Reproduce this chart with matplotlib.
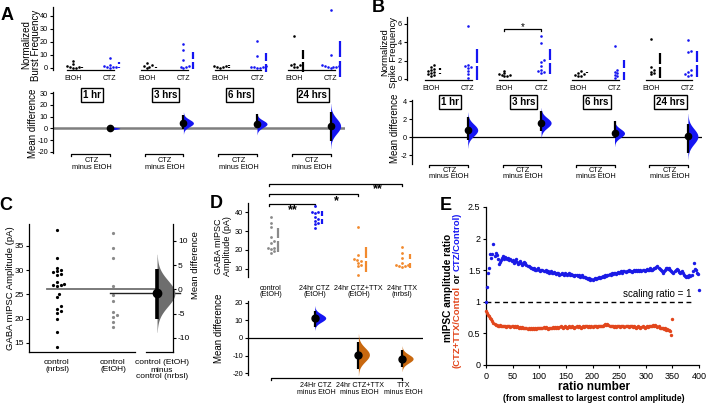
"""Estimation plots: burst/spike frequency (A, B), mIPSC amplitude (C, D), amplitude ratios (E)."""

import matplotlib

matplotlib.use("Agg")
import matplotlib.pyplot as plt
import numpy as np
from matplotlib.transforms import blended_transform_factory

plt.rcParams["font.family"] = ["Liberation Sans", "DejaVu Sans"]
plt.rcParams["axes.unicode_minus"] = False

W, H = 708, 405

BLUE = "#1515f2"
GRAY = "#8a8a8a"
ORANGE = "#f28a2e"
BROWN = "#c8680f"
RED = "#e2461c"

# ---------------- data ----------------
time_labels = ["1 hr", "3 hrs", "6 hrs", "24 hrs"]

# A: normalized burst frequency
burst_etoh = [
    [5.3, 3.0, 1.8, 1.0, 0.5, 0.2, 0.0],
    [4.1, 2.0, 1.2, 0.8, 0.3],
    [1.5, 1.2, 0.8, 0.6, 0.3],
    [24.5, 3.0, 2.5, 2.2, 1.0, 0.6],
]
burst_ctz = [
    [7.4, 2.3, 1.5, 1.0, 0.8, 0.5, 0.3],
    [18.1, 13.8, 6.1, 1.5, 1.0, 0.5, 0.3],
    [21.0, 9.2, 1.3, 0.9, 0.6, 0.4, 0.2, 0.1],
    [44.5, 10.0, 2.0, 1.5, 1.2, 1.0, 0.8, 0.5, 0.3],
]
burst_diff = [0.0, 4.5, 3.8, 2.0]
burst_ci = [(-1.5, 1.5), (-0.8, 11.3), (0.0, 12.0), (-11.0, 14.0)]

# B: normalized spike frequency
spike_etoh = [
    [1.5, 1.35, 1.1, 1.0, 0.87, 0.8, 0.7, 0.55, 0.4, 0.33],
    [0.9, 0.6, 0.5, 0.45, 0.4, 0.35, 0.3],
    [0.9, 0.7, 0.55, 0.4, 0.35, 0.3],
    [4.4, 1.3, 1.0, 0.8, 0.6, 0.5],
]
spike_ctz = [
    [5.8, 1.5, 1.4, 1.3, 1.2, 0.9, 0.5, 0.1],
    [4.7, 3.9, 2.1, 1.9, 1.4, 1.0, 0.9, 0.8, 0.7],
    [3.6, 1.0, 0.8, 0.6, 0.4, 0.3, 0.1],
    [4.3, 3.1, 2.9, 1.0, 0.8, 0.5, 0.4, 0.3],
]
spike_diff = [0.8, 1.6, 0.45, 0.1]
spike_ci = [(-0.3, 2.3), (0.7, 2.9), (-0.1, 1.8), (-1.8, 1.5)]

# C / D: GABA mIPSC amplitude (pA)
ctrl_nrbsl = [38.3, 32.5, 30.5, 30.0, 29.8, 29.5, 29.2, 29.0, 27.5, 27.2, 27.0,
              26.9, 26.8, 25.1, 24.5, 22.5, 22.0, 21.6, 21.1, 19.9, 17.3, 14.1]
ctrl_etoh = [37.7, 34.5, 32.4, 26.8, 24.9, 23.7, 21.3, 20.8, 20.4, 19.3, 18.2]
ctz_24h = [43.6, 40.4, 40.0, 39.8, 37.3, 36.7, 35.5, 34.4, 34.0, 31.6]
ctz_ttx_24h = [32.2, 17.1, 15.0, 14.5, 14.0, 13.1, 12.2, 11.3, 6.7]
ttx_24h = [21.8, 18.5, 15.8, 13.1, 12.2, 11.8, 11.6, 11.3, 11.0]

c_diff = -0.8
c_ci = (-6.2, 4.3)

d_groups = ["control\n(EtOH)", "24hr CTZ\n(EtOH)", "24hr CTZ+TTX\n(EtOH)", "24hr TTX\n(nrbsl)"]
d_contrasts = ["24Hr CTZ\nminus EtOH", "24hr CTZ+TTX\nminus EtOH", "TTX\nminus EtOH"]
d_diff = [11.4, -9.5, -11.8]
d_ci = [(6.5, 15.5), (-17.5, -2.0), (-16.5, -7.0)]

# E: mIPSC amplitude ratios, read every second ratio number
ctz_ratio = [
    1.00, 1.24, 1.45, 1.53, 1.75, 1.70, 1.76, 1.92, 1.72, 1.78,
    1.74, 1.68, 1.60, 1.63, 1.66, 1.70, 1.72, 1.68, 1.71, 1.69,
    1.67, 1.70, 1.66, 1.68, 1.64, 1.66, 1.62, 1.65, 1.67, 1.63,
    1.60, 1.62, 1.64, 1.61, 1.58, 1.60, 1.63, 1.61, 1.58, 1.56,
    1.57, 1.55, 1.53, 1.54, 1.52, 1.54, 1.51, 1.50, 1.52, 1.53,
    1.50, 1.49, 1.51, 1.50, 1.48, 1.49, 1.50, 1.47, 1.48, 1.46,
    1.47, 1.48, 1.46, 1.45, 1.47, 1.45, 1.44, 1.46, 1.45, 1.43,
    1.44, 1.46, 1.44, 1.43, 1.45, 1.44, 1.42, 1.44, 1.45, 1.43,
    1.44, 1.42, 1.43, 1.41, 1.42, 1.43, 1.41, 1.42, 1.40, 1.41,
    1.42, 1.40, 1.39, 1.40, 1.38, 1.37, 1.36, 1.37, 1.35, 1.36,
    1.35, 1.36, 1.37, 1.36, 1.38, 1.37, 1.39, 1.38, 1.40, 1.39,
    1.41, 1.40, 1.42, 1.41, 1.43, 1.42, 1.44, 1.43, 1.45, 1.44,
    1.46, 1.45, 1.44, 1.46, 1.47, 1.45, 1.47, 1.48, 1.46, 1.48,
    1.49, 1.47, 1.49, 1.48, 1.50, 1.48, 1.49, 1.47, 1.49, 1.50,
    1.48, 1.50, 1.49, 1.51, 1.49, 1.50, 1.48, 1.50, 1.51, 1.49,
    1.50, 1.52, 1.50, 1.51, 1.53, 1.51, 1.50, 1.52, 1.54, 1.53,
    1.55, 1.56, 1.54, 1.52, 1.50, 1.48, 1.46, 1.48, 1.51, 1.53,
    1.54, 1.52, 1.53, 1.51, 1.49, 1.47, 1.46, 1.48, 1.51, 1.52,
    1.50, 1.47, 1.45, 1.47, 1.49, 1.46, 1.43, 1.41, 1.40, 1.41,
    1.40, 1.42, 1.41, 1.43, 1.48, 1.62, 1.52, 1.50, 1.45, 1.44,
    1.18,
]
ctz_ttx_ratio = [
    0.85, 0.82, 0.79, 0.77, 0.74, 0.72, 0.70, 0.67, 0.65, 0.63,
    0.64, 0.62, 0.61, 0.63, 0.62, 0.61, 0.62, 0.61, 0.62, 0.60,
    0.61, 0.62, 0.61, 0.60, 0.61, 0.62, 0.60, 0.61, 0.60, 0.61,
    0.60, 0.59, 0.60, 0.59, 0.60, 0.59, 0.58, 0.59, 0.58, 0.57,
    0.58, 0.57, 0.58, 0.57, 0.58, 0.57, 0.58, 0.57, 0.58, 0.59,
    0.58, 0.59, 0.58, 0.59, 0.60, 0.59, 0.60, 0.58, 0.57, 0.58,
    0.59, 0.58, 0.59, 0.60, 0.59, 0.60, 0.59, 0.60, 0.59, 0.60,
    0.61, 0.60, 0.59, 0.60, 0.61, 0.60, 0.59, 0.60, 0.61, 0.60,
    0.60, 0.61, 0.60, 0.59, 0.60, 0.61, 0.60, 0.61, 0.60, 0.59,
    0.60, 0.61, 0.60, 0.61, 0.62, 0.61, 0.60, 0.61, 0.60, 0.61,
    0.60, 0.61, 0.62, 0.61, 0.60, 0.61, 0.62, 0.61, 0.62, 0.61,
    0.62, 0.63, 0.65, 0.64, 0.65, 0.63, 0.62, 0.61, 0.62, 0.61,
    0.60, 0.61, 0.60, 0.61, 0.62, 0.61, 0.60, 0.61, 0.62, 0.61,
    0.60, 0.61, 0.62, 0.61, 0.60, 0.61, 0.62, 0.61, 0.60, 0.61,
    0.60, 0.59, 0.60, 0.61, 0.60, 0.59, 0.60, 0.61, 0.60, 0.59,
    0.60, 0.61, 0.60, 0.61, 0.62, 0.61, 0.62, 0.63, 0.62, 0.63,
    0.62, 0.60, 0.61, 0.59, 0.58, 0.59, 0.58, 0.57, 0.58, 0.56,
    0.57, 0.56, 0.55, 0.54, 0.48, 0.72,
]

fig = plt.figure(figsize=(W / 100, H / 100), dpi=100)


def add_ax(x0, y0, x1, y1):
    """Axes from pixel box (y measured from the top)."""
    return fig.add_axes([x0 / W, 1 - y1 / H, (x1 - x0) / W, (y1 - y0) / H])


def fy(py):
    return 1 - py / H


def data_fig(ax):
    return blended_transform_factory(ax.transData, fig.transFigure)


def style_left(ax, ticks, fs):
    for s in ("top", "right", "bottom"):
        ax.spines[s].set_visible(False)
    ax.spines["left"].set_linewidth(0.9)
    ax.set_xticks([])
    ax.set_yticks(ticks)
    ax.tick_params(axis="y", labelsize=fs, length=2.5, width=0.8, pad=1)
    ax.patch.set_alpha(0)


def swarm(ax, pos, vals, color, xscale, yscale, d_px):
    """Simple deterministic beeswarm; xscale/yscale are pixels per data unit."""
    vals = np.asarray(vals, float)
    placed = []
    xs = np.zeros(len(vals))
    step = d_px * 0.55
    for i in np.argsort(vals):
        y = vals[i] * yscale
        for k in [0, 1, -1, 2, -2, 3, -3, 4, -4, 5, -5, 6, -6]:
            x = k * step
            if all((x - px) ** 2 + (y - py) ** 2 >= d_px ** 2 for px, py in placed):
                break
        placed.append((x, y))
        xs[i] = pos + x / xscale
    ax.scatter(xs, vals, s=(d_px * 0.72) ** 2, color=color, lw=0, clip_on=False, zorder=3)


def sd_gap_line(ax, x, vals, color, gap, lw=1.6):
    m, s = np.mean(vals), np.std(vals)
    ax.plot([x, x], [m - s, m - gap], color=color, lw=lw, solid_capstyle="butt", clip_on=False)
    ax.plot([x, x], [m + gap, m + s], color=color, lw=lw, solid_capstyle="butt", clip_on=False)


def contrast(ax, x, mean, ci, color, width, lw=1.6, ms=4.5):
    lo, hi = ci
    sigma = (hi - lo) / 3.92
    ys = np.linspace(mean - 3 * sigma, mean + 3 * sigma, 120)
    dens = np.exp(-0.5 * ((ys - mean) / sigma) ** 2)
    ax.fill_betweenx(ys, x, x + width * dens, color=color, lw=0, zorder=2, clip_on=False)
    ax.plot([x, x], [lo, hi], color="k", lw=lw, zorder=3, solid_capstyle="butt", clip_on=False)
    ax.plot([x], [mean], "o", color="k", ms=ms, zorder=4, clip_on=False)


def bracket(ax, x0, x1, py, tick=2.0, lw=0.9):
    ax.plot([x0, x0, x1, x1], [fy(py + tick), fy(py), fy(py), fy(py + tick)],
            transform=data_fig(ax), color="k", lw=lw, clip_on=False)


def timecourse_panel(top_px, bot_px, pos0_px, step_px, top_ylim, top_ticks, bot_ylim, bot_ticks,
                     etoh, ctz, diffs, cis, ypx, zero_kw):
    ax_t = add_ax(*top_px)
    ax_b = add_ax(*bot_px)
    for ax, box in ((ax_t, top_px), (ax_b, bot_px)):
        ax.set_xlim((box[0] - pos0_px) / step_px, (box[2] - pos0_px) / step_px)
    ax_t.set_ylim(*top_ylim)
    ax_b.set_ylim(*bot_ylim)
    style_left(ax_t, top_ticks, 5.3)
    style_left(ax_b, bot_ticks, 5.3)

    xs_t = step_px
    ys_t = (top_px[3] - top_px[1]) / (top_ylim[1] - top_ylim[0])
    ax_b.axhline(0, zorder=1, **zero_kw)

    for k in range(len(etoh)):
        pe, pc = 2 * k, 2 * k + 1
        swarm(ax_t, pe, etoh[k], "k", xs_t, ys_t, 2.6)
        swarm(ax_t, pc, ctz[k], BLUE, xs_t, ys_t, 2.6)
        sd_gap_line(ax_t, pe + 0.25, etoh[k], "k", 1.6 / ys_t)
        sd_gap_line(ax_t, pc + 0.25, ctz[k], BLUE, 1.6 / ys_t)
        ax_t.plot([pe - 0.15, pc + 0.12], [0, 0], transform=ax_t.get_xaxis_transform(),
                  color="k", lw=0.9, clip_on=False)
        ax_t.text(pe, fy(ypx["group"]), "EtOH", transform=data_fig(ax_t), ha="center",
                  va="center", fontsize=5)
        ax_t.text(pc, fy(ypx["group"]), "CTZ", transform=data_fig(ax_t), ha="center",
                  va="center", fontsize=5)
        ax_b.text(pe + 0.52, fy(ypx["box"]), time_labels[k], transform=data_fig(ax_b),
                  ha="center", va="center", fontsize=7, fontweight="bold",
                  bbox=dict(boxstyle="square,pad=0.2", fc="white", ec="k", lw=1))
        contrast(ax_b, pc, diffs[k], cis[k], BLUE, 10 / step_px)
        bracket(ax_b, pe - 0.05, pc, ypx["bracket"])
        ax_b.text(pe + 0.5, fy(ypx["minus"]), "CTZ\nminus EtOH", transform=data_fig(ax_b),
                  ha="center", va="center", fontsize=5.3, linespacing=0.95)
    return ax_t, ax_b


# ---------------- panel A ----------------
timecourse_panel((53, 7, 345, 70), (53, 92, 345, 153), 73, 36.8,
                 (-1.54, 46.9), [0, 10, 20, 30, 40], (-21, 31), [-20, -10, 0, 10, 20, 30],
                 burst_etoh, burst_ctz, burst_diff, burst_ci,
                 {"group": 79, "box": 95, "bracket": 154, "minus": 164.3},
                 dict(color="#7f7f7f", lw=1.8))
fig.text(31 / W, fy(45), "Normalized\nBurst Frequency", rotation=90, ha="center", va="center",
         fontsize=7, linespacing=1.0)
fig.text(33 / W, fy(123), "Mean difference", rotation=90, ha="center", va="center", fontsize=7)

# ---------------- panel B ----------------
ax_bt, ax_bb = timecourse_panel((407, 17, 702, 80), (412, 100, 702, 164), 431, 36.7,
                                (-0.11, 6.76), [0, 2, 4, 6], (-2.97, 4.14), [-2, 0, 2, 4],
                                spike_etoh, spike_ctz, spike_diff, spike_ci,
                                {"group": 89, "box": 102, "bracket": 165, "minus": 173.5},
                                dict(color="k", lw=0.9))
bracket(ax_bt, 2, 3, 29)
ax_bt.text(2.5, fy(27), "*", transform=data_fig(ax_bt), ha="center", va="center", fontsize=7)
fig.text(389 / W, fy(52), "Normalized\nSpike Frequency", rotation=90, ha="center", va="center",
         fontsize=6.8, linespacing=1.0)
fig.text(395 / W, fy(128), "Mean difference", rotation=90, ha="center", va="center", fontsize=7)

# ---------------- panel C ----------------
ax_c = add_ax(29, 224, 135, 352)
ax_c.set_xlim((29 - 57) / 56, (135 - 57) / 56)
ax_c.set_ylim(13.1, 39.5)
style_left(ax_c, [15, 20, 25, 30, 35], 6)
ax_c.spines["bottom"].set_visible(True)
ax_c.spines["bottom"].set_linewidth(0.9)
c_xs, c_ys = 56, 128 / 26.4
swarm(ax_c, 0, ctrl_nrbsl, "k", c_xs, c_ys, 3.2)
swarm(ax_c, 1, ctrl_etoh, GRAY, c_xs, c_ys, 3.2)

ref = np.mean(ctrl_nrbsl)
ax_c2 = add_ax(135, 224, 173, 352)
ax_c2.set_xlim(0, 1)
ax_c2.set_ylim(13.1 - ref, 39.5 - ref)
for s in ("top", "left", "bottom"):
    ax_c2.spines[s].set_visible(False)
ax_c2.spines["right"].set_linewidth(0.9)
ax_c2.patch.set_alpha(0)
ax_c2.set_xticks([])
ax_c2.yaxis.tick_right()
ax_c2.set_yticks([-10, -5, 0, 5, 10])
ax_c2.tick_params(axis="y", labelsize=6, length=2.5, width=0.8, pad=1)
ax_c2.plot([0.3, 1.0], [0, 0], transform=ax_c2.get_xaxis_transform(), color="k", lw=0.9,
           clip_on=False)
tr_c2 = blended_transform_factory(ax_c2.transAxes, ax_c2.transData)
ax_c2.plot([(47 - 135) / 38, 1.0], [0, 0], transform=tr_c2, color="#707070", lw=1.3, zorder=1,
           clip_on=False)
ax_c2.plot([(110 - 135) / 38, 1.18], [c_diff, c_diff], transform=tr_c2, color="#222222", lw=1.0,
           zorder=1, clip_on=False)
contrast(ax_c2, 0.58, c_diff, c_ci, "#6e6e6e", 0.47, lw=2.6, ms=6)

for x, lab in zip([0, 1], ["control\n(nrbsl)", "control\n(EtOH)"]):
    ax_c.text(x, fy(366), lab, transform=data_fig(ax_c), ha="center", va="center", fontsize=6,
              linespacing=1.0)
fig.text(162 / W, fy(370), "control (EtOH)\nminus\ncontrol (nrbsl)", ha="center", va="center",
         fontsize=6, linespacing=1.0)
fig.text(10.5 / W, fy(288), "GABA mIPSC Amplitude (pA)", rotation=90, ha="center", va="center",
         fontsize=6.8)
fig.text(196 / W, fy(265), "Mean difference", rotation=90, ha="center", va="center", fontsize=6.8)

# ---------------- panel D ----------------
ax_dt = add_ax(248, 203, 423, 277)
ax_db = add_ax(248, 301, 423, 375)
for ax in (ax_dt, ax_db):
    ax.set_xlim((248 - 271) / 43.7, (423 - 271) / 43.7)
ax_dt.set_ylim(5.6, 45)
ax_db.set_ylim(-21.1, 21.1)
style_left(ax_dt, [10, 20, 30, 40], 5.3)
style_left(ax_db, [-20, -10, 0, 10, 20], 5.3)
d_xs, d_ys = 43.7, 74 / 39.4
d_sets = [ctrl_etoh, ctz_24h, ctz_ttx_24h, ttx_24h]
d_colors = [GRAY, BLUE, ORANGE, ORANGE]
for i, (vals, col) in enumerate(zip(d_sets, d_colors)):
    swarm(ax_dt, i, vals, col, d_xs, d_ys, 2.8)
    sd_gap_line(ax_dt, i + 0.17, vals, col, 1.6 / d_ys)
    ax_dt.text(i, fy(291.5), d_groups[i], transform=data_fig(ax_dt), ha="center", va="center",
               fontsize=5.2, linespacing=1.0)

ax_db.axhline(0, color="k", lw=0.9, zorder=1)
for i, (m, ci) in enumerate(zip(d_diff, d_ci)):
    contrast(ax_db, i + 1, m, ci, BLUE if i == 0 else BROWN, 11 / d_xs, lw=1.6, ms=5)
    ax_db.text(i + 1.03, fy(389), d_contrasts[i], transform=data_fig(ax_db), ha="center",
               va="center", fontsize=5.1, linespacing=1.0)
bracket(ax_db, 0, 3, 378)

for x1, py, mark, mx, my in [(1, 204, "**", 0.5, 210.5), (2, 194, "*", 1.5, 201.5),
                             (3, 184, "**", 2.45, 189)]:
    bracket(ax_dt, -0.05, x1, py, tick=1.5)
    ax_dt.text(mx, fy(my), mark, transform=data_fig(ax_dt), ha="center", va="center",
               fontsize=9, fontweight="bold")

fig.text(223 / W, fy(246), "GABA mIPSC\nAmplitude (pA)", rotation=90, ha="center", va="center",
         fontsize=6.5, linespacing=1.0)
fig.text(219 / W, fy(328), "Mean difference", rotation=90, ha="center", va="center", fontsize=7)

# ---------------- panel E ----------------
ax_e = add_ax(486, 207, 699, 365)
ax_e.set_xlim(0, 400)
ax_e.set_ylim(0, 2.5)
for s in ("top", "right"):
    ax_e.spines[s].set_visible(False)
for s in ("left", "bottom"):
    ax_e.spines[s].set_linewidth(0.9)
ax_e.set_xticks(range(0, 401, 50))
ax_e.set_yticks([0, 0.5, 1, 1.5, 2, 2.5])
ax_e.set_yticklabels(["0", "0.5", "1", "1.5", "2", "2.5"])
ax_e.tick_params(labelsize=6.5, length=2.5, width=0.8, pad=1.5)
ax_e.tick_params(axis="x", pad=2.5)
ax_e.scatter(np.arange(0, 401, 2), ctz_ratio, s=6, color="#1a1ae6", lw=0, clip_on=False,
             zorder=3)
ax_e.scatter(np.arange(0, 351, 2), ctz_ttx_ratio, s=6, color=RED, lw=0, clip_on=False, zorder=3)
ax_e.plot([0, 385], [1, 1], "k--", lw=1.0, dashes=(3.5, 2.5))
ax_e.text(322, 1.12, "scaling ratio = 1", ha="center", va="center", fontsize=7)
fig.text(594 / W, fy(387.5), "ratio number", ha="center", va="center", fontsize=8.5,
         fontweight="bold")
fig.text(594 / W, fy(398.5), "(from smallest to largest control amplitude)", ha="center",
         va="center", fontsize=6.3, fontweight="bold")
fig.text(448 / W, fy(288), "mIPSC amplitude ratio", rotation=90, ha="center", va="center",
         fontsize=7.3, fontweight="bold")

# two-colour second line of the E y label
renderer = fig.canvas.get_renderer()
parts = [("(CTZ+TTX/Control", RED), (" or ", "k"), ("CTZ/Control)", BLUE)]
pieces = [fig.text(0, 0, t, rotation=90, fontsize=6.8, fontweight="bold", color=c,
                   ha="center", va="bottom") for t, c in parts]
lengths = [p.get_window_extent(renderer).height for p in pieces]
y = (H - 290) - sum(lengths) / 2
for p, ln in zip(pieces, lengths):
    p.set_position((457 / W, y / H))
    y += ln

# ---------------- panel letters ----------------
for letter, x, y in [("A", 7, 15), ("B", 378, 8), ("C", 6, 206), ("D", 216, 204), ("E", 446, 205)]:
    fig.text(x / W, fy(y), letter, ha="center", va="center", fontsize=13, fontweight="bold")

fig.savefig("out.png", dpi=100)
